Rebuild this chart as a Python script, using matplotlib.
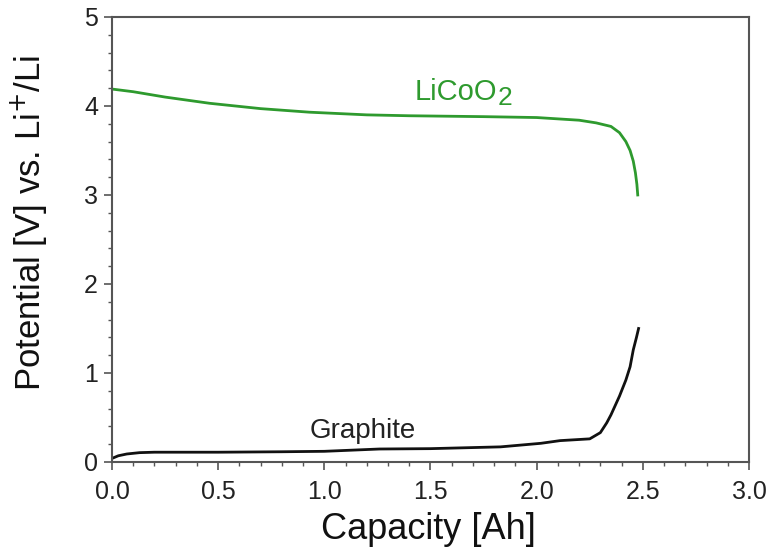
import matplotlib
matplotlib.use("Agg")
import matplotlib.pyplot as plt
from matplotlib.ticker import MultipleLocator

plt.rcParams['font.family'] = ['Liberation Sans', 'DejaVu Sans']

# LiCoO2 cathode potential vs capacity
licoo2_cap = [0.0, 0.1, 0.25, 0.46, 0.7, 0.93, 1.2, 1.4, 1.75, 2.0, 2.2, 2.28,
              2.35, 2.39, 2.42, 2.44, 2.455, 2.465, 2.472, 2.476]
licoo2_v = [4.19, 4.16, 4.10, 4.03, 3.97, 3.93, 3.90, 3.89, 3.88, 3.87, 3.84, 3.81,
            3.77, 3.70, 3.60, 3.50, 3.38, 3.25, 3.12, 3.00]

# Graphite anode potential vs capacity
graphite_cap = [0.0, 0.03, 0.07, 0.13, 0.2, 0.5, 0.8, 1.0, 1.1, 1.26, 1.5, 1.83,
                2.02, 2.08, 2.11, 2.25, 2.30, 2.33, 2.35, 2.39, 2.42, 2.44, 2.455,
                2.47, 2.48]
graphite_v = [0.04, 0.07, 0.09, 0.105, 0.11, 0.11, 0.115, 0.12, 0.13, 0.146, 0.15, 0.17,
              0.21, 0.23, 0.24, 0.26, 0.33, 0.44, 0.53, 0.74, 0.92, 1.07, 1.26,
              1.40, 1.50]

x_ticks = [0.0, 0.5, 1.0, 1.5, 2.0, 2.5, 3.0]
y_ticks = [0, 1, 2, 3, 4, 5]

green = '#2e9a2e'
spine_col = '#555555'

fig = plt.figure(figsize=(7.69, 5.47), dpi=100)
ax = fig.add_axes([0.1456, 0.1554, 0.8284, 0.8136])

ax.plot(licoo2_cap, licoo2_v, color=green, lw=2.0)
ax.plot(graphite_cap, graphite_v, color='#111111', lw=2.0)

ax.set_xlim(0, 3.0)
ax.set_ylim(0, 5)
ax.set_xticks(x_ticks)
ax.set_xticklabels([f"{v:.1f}" for v in x_ticks])
ax.set_yticks(y_ticks)
ax.set_yticklabels([str(v) for v in y_ticks])
ax.xaxis.set_minor_locator(MultipleLocator(0.1))
ax.yaxis.set_minor_locator(MultipleLocator(0.2))

ax.tick_params(which='major', direction='out', length=6, width=1.2, color=spine_col,
               labelsize=18, labelcolor='#222222')
ax.tick_params(which='minor', direction='out', length=3, width=1.0, color=spine_col)
ax.tick_params(axis='x', which='major', pad=7)
ax.tick_params(axis='y', which='major', pad=4)

for s in ax.spines.values():
    s.set_color(spine_col)
    s.set_linewidth(1.5)

ax.set_xlabel('Capacity [Ah]', fontsize=26, color='#111111')
ax.set_ylabel('Potential [V] vs. Li$^{+}$/Li', fontsize=25, color='#111111')
ax.xaxis.set_label_coords(0.497, -0.112)
ax.yaxis.set_label_coords(-0.097, 0.537)

t = ax.text(1.427, 4.07, 'LiCoO', color=green, fontsize=21, ha='left', va='baseline')
ax.annotate('2', xy=(1, 0), xycoords=t, xytext=(0.3, 0.6), textcoords='offset points',
            color=green, fontsize=19, ha='left', va='baseline')
ax.text(0.933, 0.27, 'Graphite', color='#222222', fontsize=20, ha='left', va='baseline')

fig.savefig('out.png', dpi=100)
